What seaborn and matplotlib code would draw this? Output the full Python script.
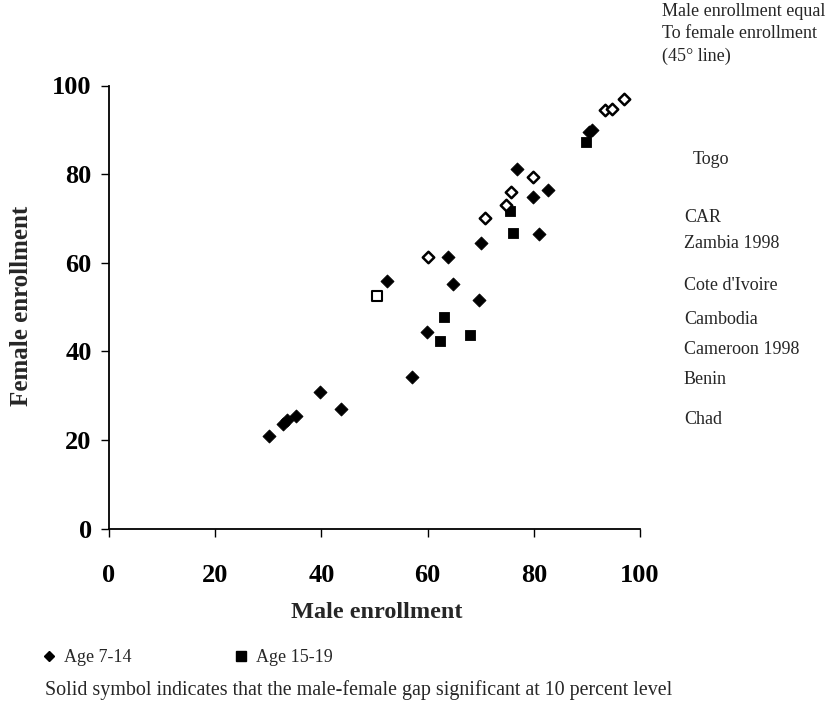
import matplotlib
matplotlib.use("Agg")
import matplotlib.pyplot as plt
from matplotlib.lines import Line2D
import seaborn as sns
import pandas as pd

# ---- data ----
d714_sig_male = [30.1, 32.8, 33.5, 35.2, 39.7, 43.6, 52.4, 57.0, 59.9, 63.9,
                 64.8, 69.7, 70.1, 76.8, 79.8, 81.0, 82.6, 90.4, 91.0]
d714_sig_female = [20.9, 23.6, 24.6, 25.5, 30.7, 26.9, 55.8, 34.3, 44.4, 61.2,
                   55.3, 51.6, 64.5, 81.2, 74.9, 66.5, 76.5, 89.5, 89.9]
d714_ns_male = [60.0, 70.8, 74.8, 75.7, 79.8, 93.5, 94.7, 96.9]
d714_ns_female = [61.2, 70.1, 73.1, 76.0, 79.3, 94.4, 94.7, 97.0]
d1519_sig_male = [62.4, 63.0, 67.9, 75.6, 76.0, 89.8]
d1519_sig_female = [42.3, 47.8, 43.7, 71.6, 66.8, 87.2]
d1519_ns_male = [50.4]
d1519_ns_female = [52.5]

ticks = [0, 20, 40, 60, 80, 100]
countries = ["Togo", "CAR", "Zambia 1998", "Cote d'Ivoire", "Cambodia",
             "Cameroon 1998", "Benin", "Chad"]
legend_labels = ["Age 7-14", "Age 15-19"]

frames = []
for mx, fy, grp, sig in [
    (d714_sig_male, d714_sig_female, "Age 7-14", True),
    (d714_ns_male, d714_ns_female, "Age 7-14", False),
    (d1519_sig_male, d1519_sig_female, "Age 15-19", True),
    (d1519_ns_male, d1519_ns_female, "Age 15-19", False),
]:
    frames.append(pd.DataFrame({"male": mx, "female": fy, "group": grp, "sig": sig}))
df = pd.concat(frames, ignore_index=True)

sns.set_style("ticks")
plt.rcParams["font.family"] = ["Liberation Serif", "DejaVu Serif"]

fig = plt.figure(figsize=(8.30, 7.19), dpi=100)
ax = fig.add_axes([109 / 830, 1 - 528.5 / 719, (640 - 109) / 830, (528.5 - 85.5) / 719])

styles = {
    ("Age 7-14", True): dict(marker="D", s=44, color="black", edgecolor="black", linewidth=0.6),
    ("Age 7-14", False): dict(marker="D", s=34, color="white", edgecolor="black", linewidth=1.8),
    ("Age 15-19", True): dict(marker="s", s=62, color="black", edgecolor="black", linewidth=0.6),
    ("Age 15-19", False): dict(marker="s", s=52, color="white", edgecolor="black", linewidth=1.5),
}
for (grp, sig), sub in df.groupby(["group", "sig"]):
    sns.scatterplot(data=sub, x="male", y="female", ax=ax, legend=False,
                    clip_on=False, zorder=3, **styles[(grp, sig)])

ax.set_xlim(0, 100)
ax.set_ylim(0, 100)
ax.set_xticks(ticks)
ax.set_yticks(ticks)
ax.set_xticklabels([str(t) for t in ticks])
ax.set_yticklabels([str(t) for t in ticks])
sns.despine(ax=ax, top=True, right=True)
for sp in ["left", "bottom"]:
    ax.spines[sp].set_linewidth(1.3)
    ax.spines[sp].set_color("black")
ax.tick_params(axis="x", direction="out", length=5.5, width=1.0, pad=20, labelsize=19, colors="black")
ax.tick_params(axis="y", direction="out", length=5.5, width=1.0, pad=7, labelsize=19, colors="black")
for lab in ax.get_xticklabels() + ax.get_yticklabels():
    lab.set_fontweight("bold")

ax.set_xlabel("Male enrollment", fontsize=17.5, fontweight="bold", labelpad=0)
ax.set_ylabel("Female enrollment", fontsize=18, fontweight="bold", labelpad=0)
ax.xaxis.set_label_coords((377 - 109) / (640 - 109), -(612 - 528.5) / 443)
ax.yaxis.set_label_coords(-(109 - 22) / 531, (528.5 - 306) / 443)
ax.xaxis.label.set_verticalalignment("center")
ax.yaxis.label.set_verticalalignment("center")

# top-right note
note = ["Male enrollment equal", "To female enrollment", "(45\u00b0 line)"]
for i, line in enumerate(note):
    fig.text(662 / 830, 1 - (12 + 22 * i) / 719, line, fontsize=13, va="center", ha="left")

# country labels on the right
label_x = [693, 684, 684, 684, 684, 684, 684, 684]
label_y = [160, 217, 243, 286, 320, 349, 380, 419]
for name, lx, ly in zip(countries, label_x, label_y):
    fig.text(lx / 830, 1 - ly / 719, name, fontsize=13, va="center", ha="left")

# legend
handles = [
    Line2D([], [], marker="D", linestyle="none", color="black", markersize=5),
    Line2D([], [], marker="s", linestyle="none", color="black", markersize=6.5),
]
fig.legend(handles, legend_labels, loc="center left", bbox_to_anchor=(24 / 830, 1 - 658 / 719),
           ncol=2, frameon=False, fontsize=13, handletextpad=0.3, columnspacing=5.6,
           handlelength=1.0)

fig.text(45 / 830, 1 - 690 / 719,
         "Solid symbol indicates that the male-female gap significant at 10 percent level",
         fontsize=14.4, va="center", ha="left")

fig.savefig("out.png", dpi=100, facecolor="white")
